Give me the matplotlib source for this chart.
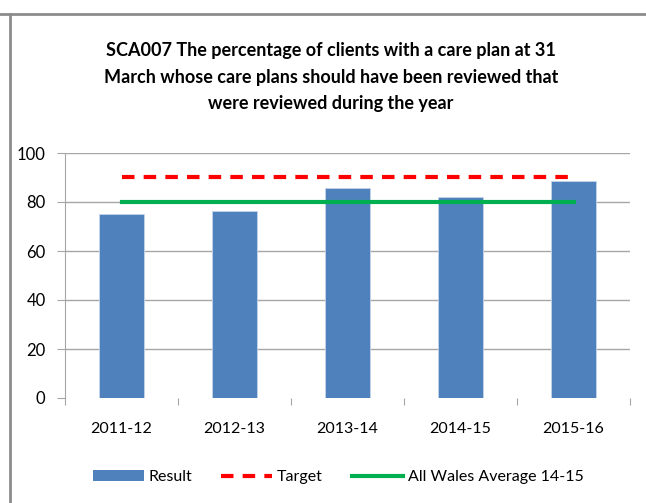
import matplotlib
matplotlib.use('Agg')
import matplotlib.pyplot as plt
from matplotlib.lines import Line2D
from matplotlib.patches import Patch

years = ["2011-12", "2012-13", "2013-14", "2014-15", "2015-16"]
result = [75.1, 76.4, 85.6, 81.9, 88.4]
target = [90, 90, 90, 90, 90]
wales_avg = [80, 80, 80, 80, 80]

plt.rcParams['font.family'] = ['Lato', 'DejaVu Sans']

fig = plt.figure(figsize=(6.46, 5.03), dpi=100)
ax = fig.add_axes([65 / 646, 1 - 398 / 503, 565 / 646, 245 / 503])

x = list(range(len(years)))
ax.bar(x, result, width=0.4, color="#4f81bd", edgecolor="#c5d5ea", linewidth=0.6, zorder=2)
ax.plot(x, target, color="#ff0000", linewidth=3, dashes=(3, 2.2), zorder=3)
ax.plot(x, wales_avg, color="#00b050", linewidth=3, zorder=3)

ax.set_xlim(-0.5, 4.5)
ax.set_ylim(0, 100)
ax.set_yticks([0, 20, 40, 60, 80, 100])
ax.yaxis.grid(True, color="#a6a6a6", linewidth=1)
ax.yaxis.get_gridlines()[0].set_visible(False)
ax.set_axisbelow(True)
ax.set_xticks([i - 0.5 for i in range(len(years) + 1)], minor=False)
ax.set_xticklabels([])
ax.set_xticks(x, minor=True)
ax.set_xticklabels(years, minor=True, fontsize=11.5)
ax.tick_params(axis='x', which='minor', length=0, pad=17)
ax.tick_params(axis='x', which='major', length=5, color="#a6a6a6", direction='out')
ax.tick_params(axis='y', length=6, color="#a6a6a6", labelsize=12, pad=8)
for side in ["top", "right", "bottom"]:
    ax.spines[side].set_visible(False)
ax.spines["left"].set_color("#a6a6a6")

fig.text(0.512, 1 - 77 / 503,
         "SCA007 The percentage of clients with a care plan at 31\n"
         "March whose care plans should have been reviewed that\n"
         "were reviewed during the year",
         ha="center", va="center", fontsize=13, fontweight="bold", linespacing=1.68)

handles = [Patch(facecolor="#4f81bd"),
           Line2D([0], [0], color="#ff0000", linewidth=3, dashes=(3, 2.2)),
           Line2D([0], [0], color="#00b050", linewidth=3)]
fig.legend(handles, ["Result", "Target", "All Wales Average 14-15"],
           loc="center", bbox_to_anchor=(338 / 646, 1 - 477 / 503), ncol=3, frameon=False,
           fontsize=11.5, handlelength=3.2, handletextpad=0.3, columnspacing=1.8)

# outer frame lines
fig.add_artist(Line2D([0, 1], [1 - 14 / 503, 1 - 14 / 503], color="#8c8c8c", linewidth=2))
fig.add_artist(Line2D([10 / 646, 10 / 646], [0, 1 - 14 / 503], color="#8c8c8c", linewidth=2))

fig.savefig("out.png", dpi=100)
